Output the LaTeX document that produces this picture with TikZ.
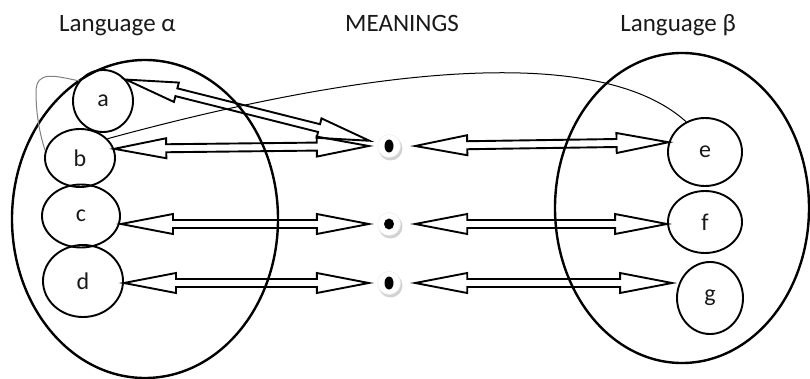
\documentclass[tikz,border=0pt]{standalone}
\usepackage{fontspec}
\setmainfont{Carlito}
\usetikzlibrary{shapes.geometric,calc}
\newcommand\dblarr[2]{%
  \path let \p1=(#1), \p2=(#2), \n1={atan2(\y2-\y1,\x2-\x1)}, \n2={veclen(\x2-\x1,\y2-\y1)} in \pgfextra{\xdef\dAng{\n1}\xdef\dLen{\n2}};
  \draw[dblarrow, shift={(#1)}, rotate=\dAng]
    (0pt,0pt) -- (52pt,10pt) -- (52pt,4pt) -- ({\dLen-52pt},4pt) -- ({\dLen-52pt},10pt) -- ({\dLen+0pt},0pt)
    -- ({\dLen-52pt},-10pt) -- ({\dLen-52pt},-4pt) -- (52pt,-4pt) -- (52pt,-10pt) -- cycle;
}
\begin{document}
\begin{tikzpicture}[x=1pt,y=-1pt,
  big/.style={line width=2.4pt},
  word/.style={ellipse, draw, line width=1.9pt, inner sep=0pt, font=\fontsize{24}{27}\selectfont, text=black!90},
  meaning/.style={circle, minimum size=40pt, inner sep=0pt},
  title/.style={font=\fontsize{25}{30}\selectfont, text=black!90, inner sep=0pt},
  dblarrow/.style={draw, line width=1.9pt, line join=miter},
  link/.style={line width=1pt},
  loopline/.style={line width=1pt, draw=gray}]

\useasboundingbox (0,0) rectangle (810,379);

% titles
\node[title, anchor=base west] (ta) at (59,32) {Language α};
\node[title, anchor=base west] (tm) at (345,32) {MEANINGS};
\node[title, anchor=base east] (tb) at (736,32) {Language β};

% big sets
\draw[big] (145,219) ellipse [x radius=133pt, y radius=159pt];
\draw[big] (682,208) ellipse [x radius=127pt, y radius=155pt];

% words
\node[word, minimum width=60pt, minimum height=62pt] (a) at (103,101) {a};
\node[word, minimum width=70pt, minimum height=58pt] (b) at (80,158) {b};
\node[word, minimum width=78pt, minimum height=63pt] (c) at (81,216) {c};
\node[word, minimum width=80pt, minimum height=72pt] (d) at (83,281) {d};
\node[word, minimum width=74pt, minimum height=68pt] (e) at (705,152) {e};
\node[word, minimum width=74pt, minimum height=62pt] (f) at (705,222) {f};
\node[word, minimum width=66pt, minimum height=72pt] (g) at (710,298) {g};

% meanings
\node[meaning] (m1) at (389,146) {};
\node[meaning] (m2) at (389,224) {};
\node[meaning] (m3) at (389,283) {};
\foreach \m in {m1,m2,m3} {
  \fill[gray!35] ([shift={(1.5,2.5)}]\m.center) circle (12pt);
  \fill[white] (\m.center) circle (11.5pt);
  \draw[gray!15, line width=0.5pt] (\m.center) circle (11.5pt);
}
\fill[black] (m1.center) ellipse [x radius=4.5pt, y radius=6.5pt];
\fill[black] (m2.center) ellipse [x radius=5pt, y radius=5.5pt];
\fill[black] (m3.center) ellipse [x radius=4.5pt, y radius=6.5pt];

% double arrows
\dblarr{a.43}{m1.165}
\dblarr{b.15}{m1.west}
\dblarr{c.east |- m2.west}{m2.west}
\dblarr{d.east |- m3.west}{m3.west}
\dblarr{[xshift=6pt]m1.east}{e.165}
\dblarr{[xshift=6pt]m2.east}{f.west |- m2.east}
\dblarr{[xshift=6pt]m3.east}{$(g.west |- m3.east)+(-4,0)$}

% thin links
\draw[link] (b.35) .. controls (330,78) and (590,35) .. (e.122);
\draw[loopline] (a.140) .. controls (55,76) and (36,70) .. (36,92) .. controls (36,115) and (40,135) .. (b.168);
\end{tikzpicture}
\end{document}
